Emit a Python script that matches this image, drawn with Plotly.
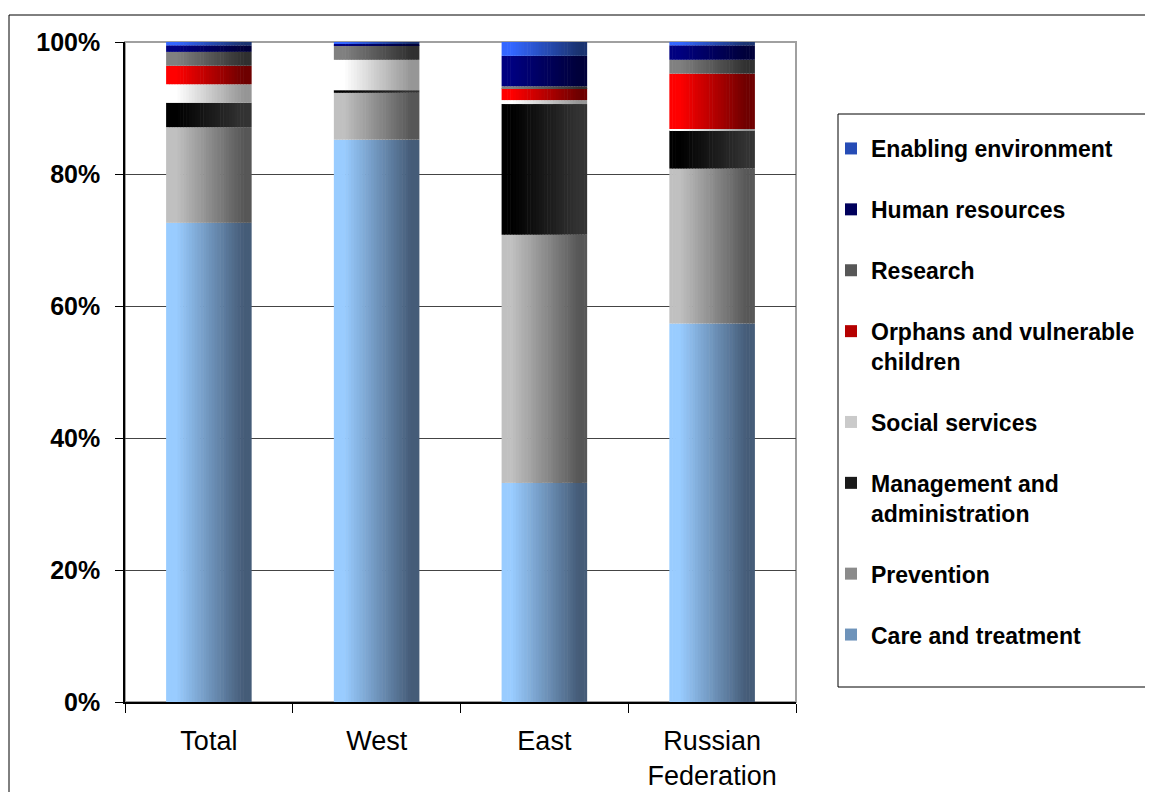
import numpy as np
import plotly.graph_objects as go

# ---------------- data (percent of total) ----------------
categories = ["Total", "West", "East", "Russian Federation"]
tick_labels = ["Total", "West", "East", "Russian<br>Federation"]

care_and_treatment = [72.6, 85.2, 33.2, 57.4]
prevention = [14.5, 7.1, 37.6, 23.5]
management_and_administration = [3.7, 0.4, 19.8, 5.8]
social_services = [2.8, 4.6, 0.6, 0.2]
orphans_and_vulnerable_children = [2.8, 0.0, 1.8, 8.4]
research = [2.1, 2.2, 0.3, 2.1]
human_resources = [1.0, 0.2, 4.6, 2.2]
enabling_environment = [0.5, 0.3, 2.1, 0.5]

series_names = [
    "Care and treatment",
    "Prevention",
    "Management and<br>administration",
    "Social services",
    "Orphans and vulnerable<br>children",
    "Research",
    "Human resources",
    "Enabling environment",
]
series_values = [
    care_and_treatment,
    prevention,
    management_and_administration,
    social_services,
    orphans_and_vulnerable_children,
    research,
    human_resources,
    enabling_environment,
]
# gradient colours: (left, right)
series_colors = [
    ("#99CCFF", "#455C78"),
    ("#C0C0C0", "#575757"),
    ("#000000", "#333333"),
    ("#FFFFFF", "#969696"),
    ("#FF0000", "#6E0000"),
    ("#808080", "#303030"),
    ("#000080", "#00003A"),
    ("#3366FF", "#1A3370"),
]

# ---------------- helpers ----------------
def hex2rgb(h):
    h = h.lstrip("#")
    return np.array([int(h[i:i + 2], 16) for i in (0, 2, 4)], dtype=float)


def mix(c1, c2, t):
    a, b = hex2rgb(c1), hex2rgb(c2)
    c = a + (b - a) * t
    return "rgb(%d,%d,%d)" % tuple(np.round(c).astype(int))


def profile(t):
    return float(np.clip((t - 0.12) / 0.78, 0.0, 1.0))


vals = np.array(series_values, dtype=float)
vals = vals / vals.sum(axis=0, keepdims=True)  # 100% stacked
bases = np.vstack([np.zeros(vals.shape[1]), np.cumsum(vals, axis=0)[:-1]])

BAR_W = 0.51
N_SLICES = 30
slice_w = BAR_W / N_SLICES

fig = go.Figure()
n_series = len(series_names)
for k, name in enumerate(series_names):
    c_left, c_right = series_colors[k]
    for j in range(N_SLICES):
        t = (j + 0.5) / N_SLICES
        w = slice_w * (1.0 if j == N_SLICES - 1 else 1.2)
        fig.add_trace(
            go.Bar(
                x=categories,
                y=vals[k],
                base=bases[k],
                offset=-BAR_W / 2 + j * slice_w,
                width=w,
                marker=dict(color=mix(c_left, c_right, profile(t)), line=dict(width=0)),
                name=name,
                legendgroup=name,
                legendrank=100 * (n_series - k),
                showlegend=(j == N_SLICES // 2),
                hoverinfo="skip" if j != N_SLICES // 2 else None,
            )
        )

FONT = "Arial, Liberation Sans, sans-serif"

# the page adds an 8px body margin, so the figure is 1145x784 placed at (8,8)
OFF = 8
FW, FH = 1153 - OFF, 792 - OFF
# plot area in page pixels: x 125..796, y 42..702
L, T = 125 - OFF, 42 - OFF
R, B = FW - (796 - OFF), FH - (702 - OFF)
PW, PH = FW - L - R, FH - T - B


def px_x(x):  # page pixel -> paper
    return (x - OFF - L) / PW


def px_y(y):
    return (FH - B - (y - OFF)) / PH


shapes = [
    # plot-area frame (grey top/right)
    dict(type="rect", xref="paper", yref="paper", x0=0, x1=1, y0=0, y1=1,
         line=dict(color="#A0A0A0", width=2), layer="between"),
    # outer chart border
    dict(type="rect", xref="paper", yref="paper", x0=px_x(9), x1=px_x(1170),
         y0=px_y(810), y1=px_y(15), line=dict(color="#000000", width=1), layer="below"),
    # legend box
    dict(type="rect", xref="paper", yref="paper", x0=px_x(838), x1=px_x(1149),
         y0=px_y(687), y1=px_y(114), line=dict(color="#000000", width=1), layer="below"),
]

fig.update_layout(
    width=FW,
    height=FH,
    margin=dict(l=L, r=R, t=T, b=B, pad=0, autoexpand=False),
    paper_bgcolor="white",
    plot_bgcolor="white",
    barmode="overlay",
    shapes=shapes,
    font=dict(family=FONT, color="black"),
    legend=dict(
        x=px_x(831),
        y=px_y(127),
        xanchor="left",
        yanchor="top",
        traceorder="grouped",
        tracegroupgap=28,
        valign="top",
        font=dict(family=FONT, size=23, color="black", weight="bold"),
        bgcolor="rgba(0,0,0,0)",
        borderwidth=0,
        itemclick=False,
    ),
    xaxis=dict(
        type="category",
        categoryorder="array",
        categoryarray=categories,
        tickvals=categories,
        ticktext=tick_labels,
        tickson="boundaries",
        ticks="outside",
        ticklen=9,
        tickcolor="black",
        showline=True,
        linecolor="black",
        linewidth=1.5,
        showgrid=False,
        automargin=False,
        tickfont=dict(family=FONT, size=27, color="black"),
        ticklabelstandoff=14,
        range=[-0.5, 3.5],
    ),
    yaxis=dict(
        range=[0, 1],
        tickvals=[0, 0.2, 0.4, 0.6, 0.8, 1.0],
        tickformat=".0%",
        ticks="outside",
        ticklen=8,
        tickcolor="black",
        showline=True,
        linecolor="black",
        linewidth=1.5,
        showgrid=True,
        gridcolor="#444444",
        gridwidth=1,
        zeroline=False,
        automargin=False,
        tickfont=dict(family=FONT, size=25, color="black", weight="bold"),
        ticklabelstandoff=10,
    ),
)

fig.write_html("out.html")
